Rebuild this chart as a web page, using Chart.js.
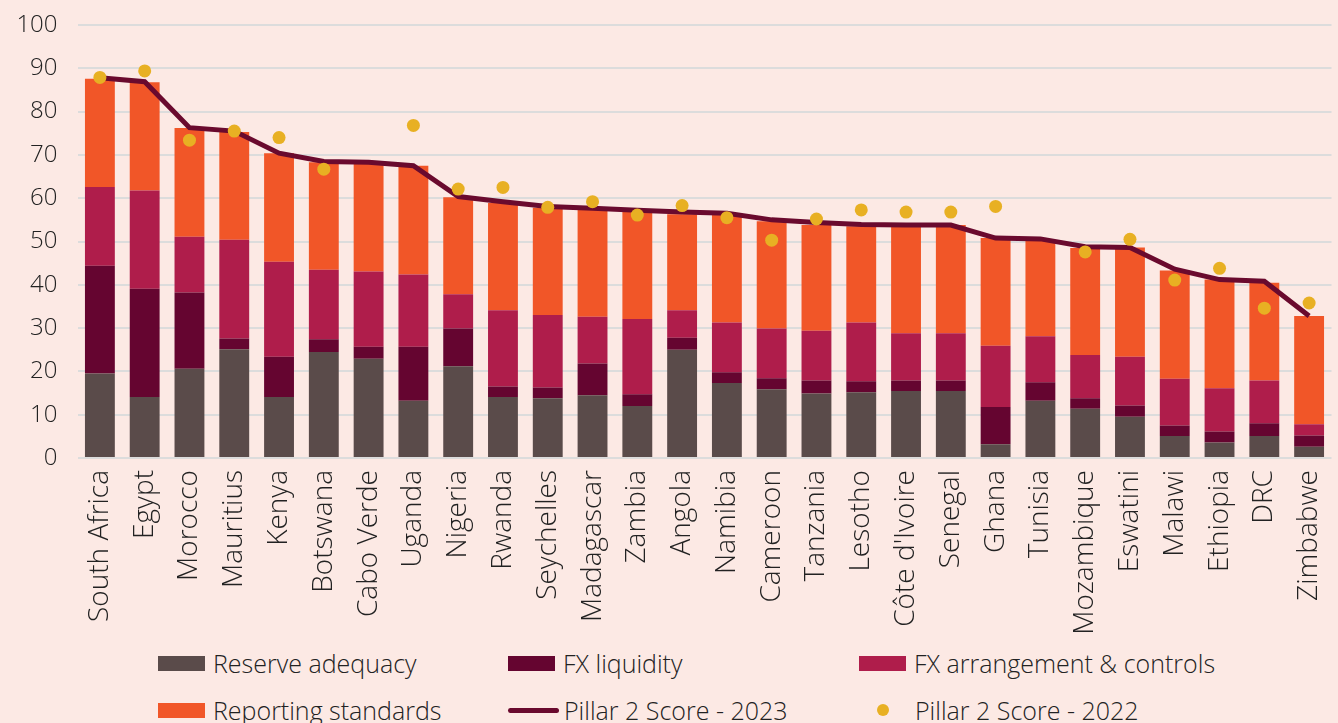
<!DOCTYPE html>
<html>
<head>
<meta charset="utf-8">
<script src="https://cdn.jsdelivr.net/npm/chart.js@4.4.1/dist/chart.umd.min.js"></script>
<style>
  body { margin: 0; background: #fce9e4; width: 1338px; height: 723px; overflow: hidden; font-family: 'Open Sans', sans-serif; }
  #wrap { position: relative; width: 1338px; height: 640px; }
  #legend { position: absolute; left: 0; top: 640px; width: 1338px; height: 83px; }
  .item { position: absolute; display: flex; align-items: center; font-size: 25px; font-weight: 300; color: #222; white-space: nowrap; }
</style>
</head>
<body>
<div id="wrap"><canvas id="chart"></canvas></div>
<div id="legend"></div>
<script>
const countries = ['South Africa', 'Egypt', 'Morocco', 'Mauritius', 'Kenya', 'Botswana', 'Cabo Verde', 'Uganda', 'Nigeria', 'Rwanda',
  'Seychelles', 'Madagascar', 'Zambia', 'Angola', 'Namibia', 'Cameroon', 'Tanzania', 'Lesotho', "Côte d'Ivoire", 'Senegal',
  'Ghana', 'Tunisia', 'Mozambique', 'Eswatini', 'Malawi', 'Ethiopia', 'DRC', 'Zimbabwe'];

const reserveAdequacy = [19.5, 14.1, 20.6, 25.1, 14.1, 24.5, 22.9, 13.2, 21.2, 14.1,
  13.8, 14.5, 12.0, 25.0, 17.3, 15.9, 14.9, 15.2, 15.5, 15.5,
  3.2, 13.2, 11.4, 9.5, 5.1, 3.6, 5.1, 2.6];
const fxLiquidity = [24.9, 25.0, 17.6, 2.5, 9.3, 2.9, 2.8, 12.5, 8.7, 2.4,
  2.5, 7.3, 2.7, 2.8, 2.5, 2.5, 3.0, 2.5, 2.4, 2.4,
  8.6, 4.3, 2.4, 2.6, 2.4, 2.5, 2.9, 2.6];
const fxArrangement = [18.2, 22.7, 12.9, 22.8, 21.9, 16.1, 17.4, 16.7, 7.9, 17.6,
  16.7, 10.8, 17.4, 6.3, 11.5, 11.5, 11.5, 13.6, 10.9, 10.9,
  14.1, 10.6, 10.0, 11.3, 10.8, 10.0, 9.9, 2.6];
const reportingStandards = [25.0, 25.0, 25.1, 24.9, 25.1, 24.8, 25.0, 25.1, 22.4, 24.8,
  24.8, 24.8, 24.8, 22.2, 24.9, 24.8, 24.4, 22.2, 24.7, 25.0,
  24.9, 22.3, 24.7, 25.2, 25.0, 25.1, 22.6, 25.0];
const score2023 = [87.8, 86.9, 76.3, 75.5, 70.4, 68.5, 68.3, 67.5, 60.4, 59.2,
  58.1, 57.7, 57.2, 56.8, 56.5, 55.0, 54.4, 53.9, 53.8, 53.8,
  50.8, 50.6, 48.8, 48.6, 43.6, 41.2, 40.8, 32.8];
const score2022 = [87.9, 89.4, 73.4, 75.5, 74.0, 66.7, null, 76.8, 62.1, 62.5,
  57.9, 59.2, 56.1, 58.3, 55.5, 50.3, 55.2, 57.3, 56.8, 56.8,
  58.1, null, 47.6, 50.5, 41.1, 43.8, 34.6, 35.8];
const yTicks = [0, 10, 20, 30, 40, 50, 60, 70, 80, 90, 100];

const colors = {
  reserve: '#5a4b4a',
  liquidity: '#650530',
  arrangement: '#af1d4b',
  reporting: '#f15628',
  line: '#6a0a2e',
  dot: '#e8b023',
};

const fontFamily = "'Open Sans', sans-serif";

function barSet(label, data, color) {
  return {
    type: 'bar',
    label: label,
    data: data,
    backgroundColor: color,
    borderWidth: 0,
    stack: 'pillar',
    barPercentage: 0.667,
    categoryPercentage: 1,
    order: 3,
  };
}

const ctx = document.getElementById('chart');
ctx.width = 1338;
ctx.height = 640;

new Chart(ctx, {
  data: {
    labels: countries,
    datasets: [
      barSet('Reserve adequacy', reserveAdequacy, colors.reserve),
      barSet('FX liquidity', fxLiquidity, colors.liquidity),
      barSet('FX arrangement & controls', fxArrangement, colors.arrangement),
      barSet('Reporting standards', reportingStandards, colors.reporting),
      {
        type: 'line',
        label: 'Pillar 2 Score - 2023',
        data: score2023,
        stack: 'score2023',
        borderColor: colors.line,
        borderWidth: 5,
        pointRadius: 0,
        tension: 0,
        order: 2,
      },
      {
        type: 'line',
        label: 'Pillar 2 Score - 2022',
        data: score2022,
        stack: 'score2022',
        showLine: false,
        pointRadius: 6.5,
        pointBackgroundColor: colors.dot,
        pointBorderWidth: 0,
        order: 1,
      },
    ],
  },
  options: {
    responsive: false,
    animation: false,
    layout: { padding: { top: 25, right: 0, bottom: 0, left: 0 } },
    plugins: { legend: { display: false }, tooltip: { enabled: false } },
    scales: {
      x: {
        stacked: true,
        grid: { display: false },
        border: { display: false },
        ticks: {
          minRotation: 90,
          maxRotation: 90,
          padding: 4,
          color: '#222',
          font: { family: fontFamily, size: 28, weight: 300 },
        },
        afterFit: (axis) => {
          axis.height = 182;
          axis.paddingLeft = 0;
          axis.paddingRight = 0;
        },
      },
      y: {
        stacked: true,
        min: 0,
        max: 100,
        afterBuildTicks: (axis) => { axis.ticks = yTicks.map((v) => ({ value: v })); },
        grid: { color: '#dcdcdc', lineWidth: 2, drawTicks: false },
        border: { display: false },
        ticks: {
          padding: 20,
          color: '#222',
          font: { family: fontFamily, size: 24, weight: 300 },
        },
        afterFit: (axis) => {
          axis.width = 77.5;
          axis.paddingTop = 0;
          axis.paddingBottom = 0;
        },
      },
    },
  },
});

const legendItems = [
  { label: 'Reserve adequacy', kind: 'box', color: colors.reserve, x: 158, y: 23 },
  { label: 'FX liquidity', kind: 'box', color: colors.liquidity, x: 508, y: 23 },
  { label: 'FX arrangement & controls', kind: 'box', color: colors.arrangement, x: 859, y: 23 },
  { label: 'Reporting standards', kind: 'box', color: colors.reporting, x: 158, y: 70 },
  { label: 'Pillar 2 Score - 2023', kind: 'line', color: colors.line, x: 508, y: 70 },
  { label: 'Pillar 2 Score - 2022', kind: 'dot', color: colors.dot, x: 859, y: 70 },
];

const legendEl = document.getElementById('legend');
legendItems.forEach((item) => {
  const div = document.createElement('div');
  div.className = 'item';
  div.style.left = item.x + 'px';
  div.style.top = (item.y - 17) + 'px';
  div.style.height = '34px';
  const mark = document.createElement('span');
  if (item.kind === 'box') {
    mark.style.cssText = 'display:inline-block;margin-right:8px;width:47px;height:15px;background:' + item.color;
  } else if (item.kind === 'line') {
    mark.style.cssText = 'display:inline-block;margin-right:5px;width:51px;height:5px;border-radius:3px;background:' + item.color;
  } else {
    mark.style.cssText = 'display:inline-block;width:12px;height:12px;border-radius:6px;margin:0 26px 0 18px;background:' + item.color;
  }
  div.appendChild(mark);
  const text = document.createElement('span');
  text.textContent = item.label;
  div.appendChild(text);
  legendEl.appendChild(div);
});
</script>
</body>
</html>
